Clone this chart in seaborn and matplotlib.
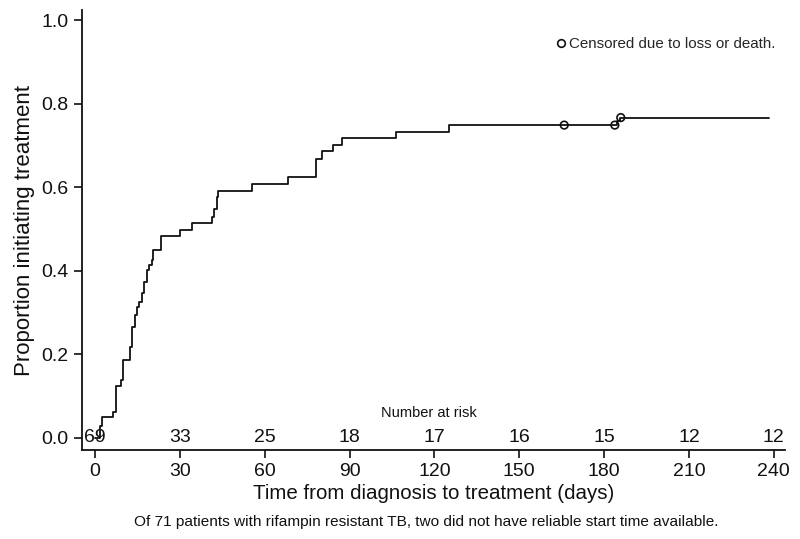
import numpy as np
import pandas as pd
import matplotlib
matplotlib.use('Agg')
import matplotlib.pyplot as plt
from matplotlib.lines import Line2D
import seaborn as sns

sns.set_theme(style='white')
plt.rcParams['font.family'] = ['Liberation Sans', 'DejaVu Sans']

# Kaplan-Meier style curve (days, proportion initiating)
times = [0, 1.8, 2.4, 6.5, 7.4, 9.1, 10, 12.4, 13, 14.1, 14.7, 15.7, 16.5, 17.4,
         18.3, 19.2, 20, 20.6, 23.2, 30, 34.2, 41.2, 42, 43, 43.6, 55.4, 68.3,
         78.1, 80.1, 84.2, 87.5, 106.3, 125.1, 184.5, 185.5, 238.3]
prop = [0, 0.029, 0.049, 0.063, 0.124, 0.139, 0.187, 0.218, 0.266, 0.294, 0.314,
        0.326, 0.346, 0.374, 0.402, 0.414, 0.426, 0.451, 0.483, 0.498, 0.515,
        0.529, 0.547, 0.576, 0.592, 0.609, 0.624, 0.669, 0.687, 0.701, 0.717,
        0.733, 0.749, 0.758, 0.767, 0.767]

censor_times = [165.9, 183.8, 185.9]
censor_prop = [0.749, 0.749, 0.767]

risk_days = [0, 30, 60, 90, 120, 150, 180, 210, 240]
risk_n = [69, 33, 25, 18, 17, 16, 15, 12, 12]

yticks = [0.0, 0.2, 0.4, 0.6, 0.8, 1.0]

curve = pd.DataFrame({'days': times, 'prop': prop})
cens = pd.DataFrame({'days': censor_times, 'prop': censor_prop})

fig = plt.figure(figsize=(8, 5.39), dpi=100)
ax = fig.add_axes([0.1025, 0.165, 0.8785, 0.816])

sns.lineplot(data=curve, x='days', y='prop', drawstyle='steps-post',
             estimator=None, color='#111111', linewidth=1.3, ax=ax)
sns.scatterplot(data=cens, x='days', y='prop', marker='o', s=30,
                facecolor='none', edgecolor='#111111', linewidth=1.2, ax=ax, zorder=3)

# number at risk row
for d, n in zip(risk_days, risk_n):
    ax.text(d, 0.0, str(n), ha='center', va='center', fontsize=14, color='#111111')
ax.text(118, 0.06, 'Number at risk', ha='center', va='center', fontsize=10.5, color='#111111')

handle = Line2D([], [], marker='o', linestyle='none', markerfacecolor='none',
                markeredgecolor='#111111', markersize=5.5, markeredgewidth=1.2)
ax.legend([handle], ['Censored due to loss or death.'], loc='upper right',
          bbox_to_anchor=(1.0, 0.96), frameon=False, fontsize=10.9,
          handletextpad=0.05, handlelength=1.0, borderaxespad=0.2)

ax.set_xlim(-4.6, 243.9)
ax.set_ylim(-0.029, 1.024)
ax.set_xticks(risk_days)
ax.set_yticks(yticks)
ax.set_yticklabels([f'{v:.1f}' for v in yticks])
ax.tick_params(axis='both', direction='out', length=6, width=1.2,
               labelsize=14, colors='#111111', left=True, bottom=True)
ax.set_xlabel('Time from diagnosis to treatment (days)', fontsize=14.8, color='#111111', labelpad=3)
ax.set_ylabel('Proportion initiating treatment', fontsize=16, color='#111111', labelpad=5)

sns.despine(ax=ax)
for s in ['left', 'bottom']:
    ax.spines[s].set_linewidth(1.3)
    ax.spines[s].set_color('#111111')

fig.text(0.5325, 0.031, 'Of 71 patients with rifampin resistant TB, two did not have reliable start time available.',
         ha='center', va='center', fontsize=11.1, color='#111111')

fig.savefig('out.png', dpi=100)
